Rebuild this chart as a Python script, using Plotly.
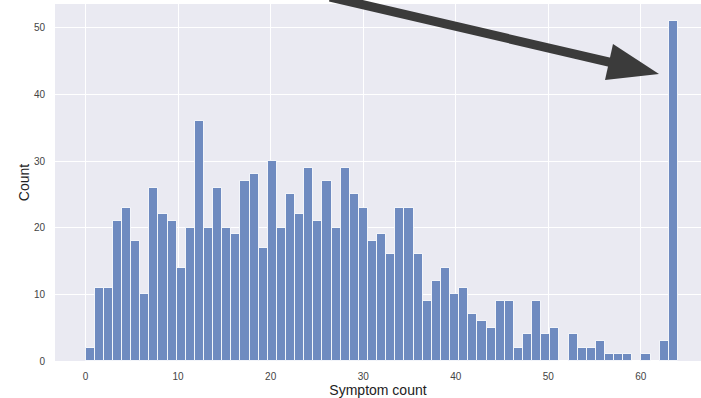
import numpy as np
import plotly.graph_objects as go

# ---- data ----
symptom_values = list(range(65))  # symptom count 0..64
counts = [2, 11, 11, 21, 23, 18, 10, 26, 22, 21,
          14, 20, 36, 20, 26, 20, 19, 27, 28, 17,
          30, 20, 25, 22, 29, 21, 27, 20, 29, 25,
          23, 18, 19, 16, 23, 23, 16, 9, 12, 14,
          10, 11, 7, 6, 5, 9, 9, 2, 4, 9,
          4, 5, 0, 4, 2, 2, 3, 1, 1, 1,
          0, 1, 0, 3, 51]
x_ticks = [0, 10, 20, 30, 40, 50, 60]
y_ticks = [0, 10, 20, 30, 40, 50]

# histogram bins: 65 equal bins over [min, max]
n_bins = len(symptom_values)
edges = np.linspace(min(symptom_values), max(symptom_values), n_bins + 1)
centers = (edges[:-1] + edges[1:]) / 2
bin_w = edges[1] - edges[0]

W, H = 701, 398
ML, MR, MT, MB = 55, 0, 4, 37
PW, PH = W - ML - MR, H - MT - MB


def px(xpix):
    return (xpix - ML) / PW


def py(ypix):
    return (H - MB - ypix) / PH


fig = go.Figure()
fig.add_trace(go.Bar(
    x=centers, y=counts, width=bin_w,
    marker=dict(color="rgb(111,139,192)",
                line=dict(color="rgba(255,255,255,0.85)", width=1)),
    showlegend=False,
))

ymax = max(counts) * 1.05
xr = [min(symptom_values) - 0.05 * 64 - 0.1, 66.5]

arrow_col = "#3b3b3b"
# arrow shaft
fig.add_shape(type="line", xref="paper", yref="paper",
              x0=px(330), y0=py(-3), x1=px(613), y1=py(63),
              line=dict(color=arrow_col, width=9), layer="above")
# arrow head
fig.add_shape(type="path", xref="paper", yref="paper",
              path=f"M {px(613)},{py(44)} L {px(605)},{py(80)} L {px(659)},{py(74)} Z",
              fillcolor=arrow_col, line=dict(color=arrow_col, width=0), layer="above")

fig.update_layout(
    width=W, height=H,
    margin=dict(l=ML, r=MR, t=MT, b=MB),
    paper_bgcolor="white",
    plot_bgcolor="#EAEAF2",
    bargap=0,
    font=dict(family="Liberation Sans, Arial, sans-serif", color="#333333"),
    xaxis=dict(
        range=xr, tickvals=x_ticks, ticktext=[str(v) for v in x_ticks],
        showgrid=True, gridcolor="white", gridwidth=1, zeroline=False,
        ticks="outside", ticklen=6, tickcolor="rgba(0,0,0,0)",
        tickfont=dict(size=10, color="#444444"),
        title=dict(text="Symptom count", font=dict(size=14, color="#222222"), standoff=2),
        showline=False,
    ),
    yaxis=dict(
        range=[0, ymax], tickvals=y_ticks, ticktext=[str(v) for v in y_ticks],
        showgrid=True, gridcolor="white", gridwidth=1, zeroline=False,
        ticks="outside", ticklen=7, tickcolor="rgba(0,0,0,0)",
        tickfont=dict(size=10, color="#444444"),
        title=dict(text="Count", font=dict(size=14, color="#222222"), standoff=0),
        showline=False,
    ),
)

fig.write_html("out.html")
